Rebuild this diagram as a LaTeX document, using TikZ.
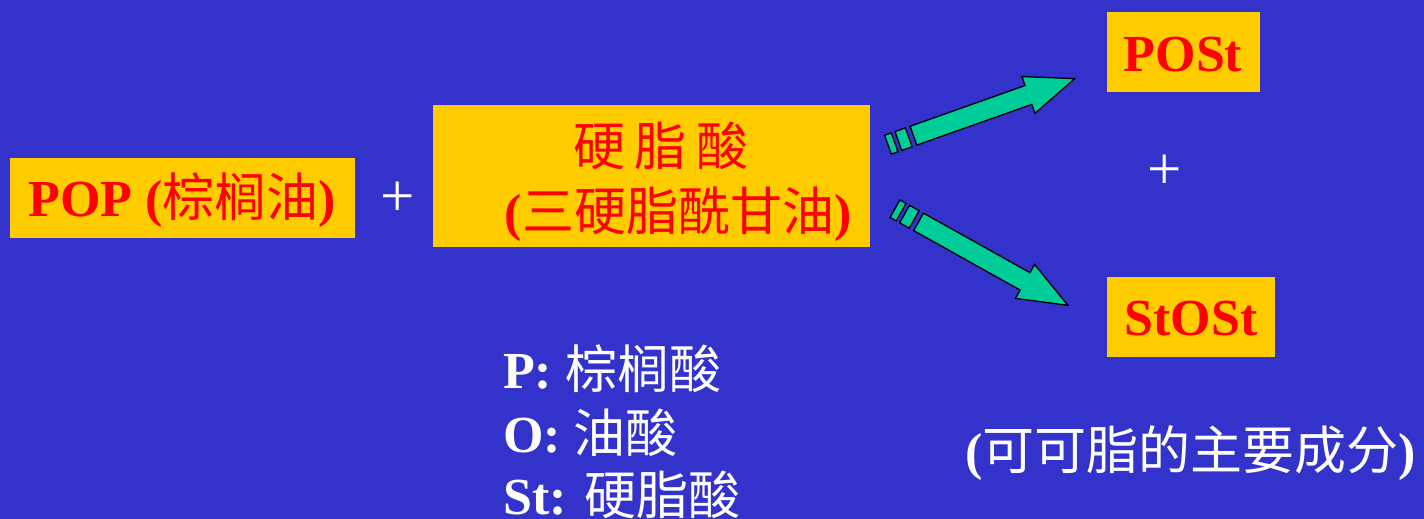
\documentclass[tikz,border=0pt]{standalone}
\usepackage{fontspec}
\setmainfont{Liberation Serif}
\newfontfamily\cjk{Noto Sans CJK SC}
\definecolor{bg}{RGB}{51,51,204}
\definecolor{boxy}{RGB}{255,204,0}
\definecolor{arrg}{RGB}{0,204,153}
\tikzset{
  ybox/.style={fill=boxy, draw=none, inner sep=0pt, anchor=north west, rectangle},
  bigtxt/.style={font=\fontsize{52}{60}\selectfont, inner sep=0pt, anchor=base},
  redtxt/.style={bigtxt, text=red},
  whitetxt/.style={bigtxt, text=white},
  plustxt/.style={font=\fontsize{61}{70}\selectfont, text=white, inner sep=0pt, anchor=center},
  arrpart/.style={fill=arrg, draw=black, line width=1.3pt, line join=miter},
}
\newcommand{\brokenarrow}{%
  \filldraw[arrpart] (0,-10) rectangle (7,10);
  \filldraw[arrpart] (11,-10) rectangle (22,10);
  \filldraw[arrpart] (27,-10) -- (149,-10) -- (149,-19.5) -- (198,0) -- (149,19.5) -- (149,10) -- (27,10) -- cycle;
}
\begin{document}
\begin{tikzpicture}[x=1pt,y=-1pt]
\fill[bg] (0,0) rectangle (1424,519);
\useasboundingbox (0,0) rectangle (1424,519);

% boxes
\node[ybox, minimum width=345pt, minimum height=80pt] (pop) at (10,158) {};
\node[ybox, minimum width=437pt, minimum height=142pt] (sss) at (433,105) {};
\node[ybox, minimum width=153pt, minimum height=80pt] (post) at (1107,12) {};
\node[ybox, minimum width=168pt, minimum height=80pt] (stost) at (1107,277) {};

% box texts
\node[redtxt] (poptxt) at (182.5,216) {\textbf{POP (}{\cjk 棕榈油}\textbf{)}};
\node[redtxt] (ssst1) at (661,165) {{\cjk 硬}\hspace{10pt}{\cjk 脂}\hspace{10pt}{\cjk 酸}};
\node[redtxt] (ssst2) at (678,230) {\textbf{(}{\cjk 三硬脂酰甘油}\textbf{)}};
\node[redtxt] (posttxt) at (1183,72) {\textbf{POSt}};
\node[redtxt] (stosttxt) at (1191,335) {\textbf{StOSt}};

% plus signs
\node[plustxt] (plus1) at (398,199.5) {+};
\node[plustxt] (plus2) at (1164.5,172) {+};

% arrows
\coordinate (a1) at (888,144.7);
\coordinate (a2) at (895,208.7);
\begin{scope}[shift={(a1)}, rotate=19.5]
  \brokenarrow
\end{scope}
\begin{scope}[shift={(a2)}, rotate=-29.2]
  \brokenarrow
\end{scope}

% legend
\node[whitetxt, anchor=base west] (legp) at (503,388) {\textbf{P:} {\cjk 棕榈酸}};
\node[whitetxt, anchor=base west] (lego) at (503,452) {\textbf{O:} {\cjk 油酸}};
\node[whitetxt, anchor=base west] (legst) at (503,514) {\textbf{St:} {\cjk 硬脂酸}};

% note
\node[whitetxt, anchor=base west] (note) at (965,469) {\textbf{(}{\cjk 可可脂的主要成分}\textbf{)}};
\end{tikzpicture}
\end{document}
